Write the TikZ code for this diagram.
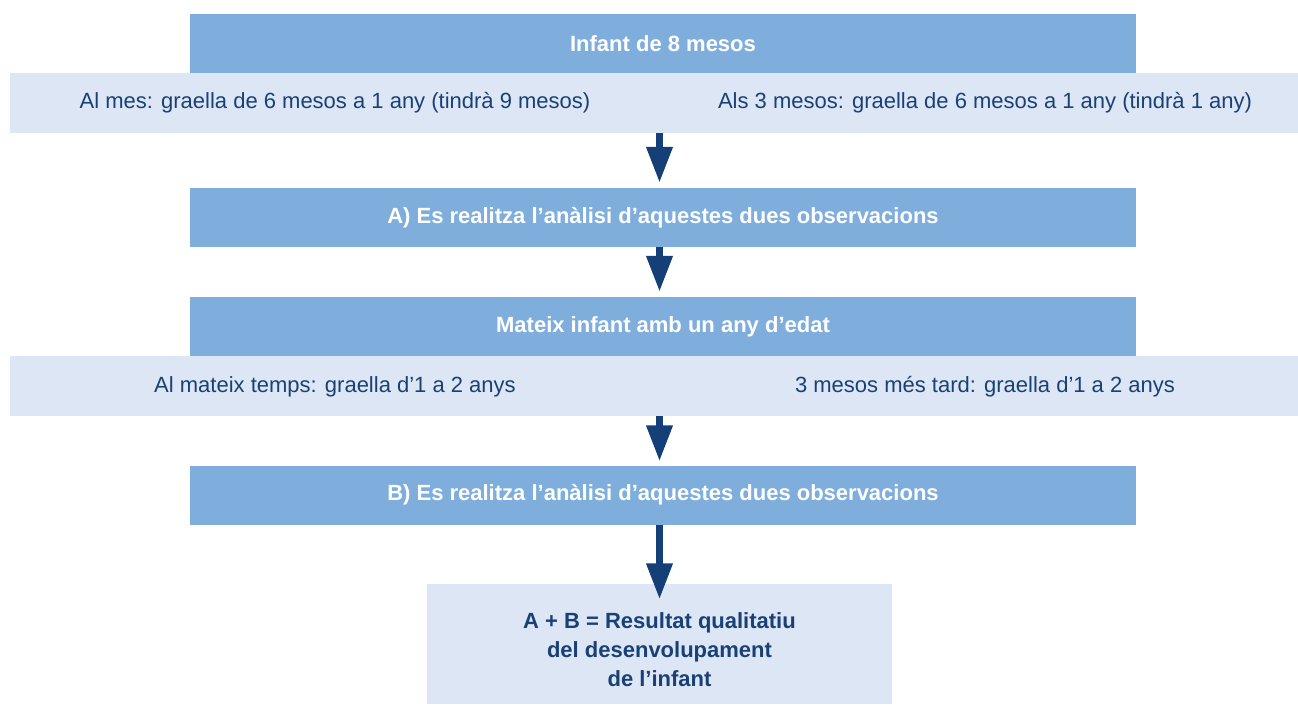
\documentclass[tikz,border=0pt]{standalone}
\usepackage{fontspec}
\setmainfont{Liberation Sans}
\usepackage{xcolor}
\definecolor{BoxBlue}{HTML}{7FAEDC}
\definecolor{BandBlue}{HTML}{DCE6F5}
\definecolor{InkBlue}{HTML}{1A4176}
\definecolor{ArrowBlue}{HTML}{143F77}
\usetikzlibrary{arrows.meta}

\begin{document}
\begin{tikzpicture}[x=1pt,y=-1pt,
    stagebox/.style={fill=BoxBlue,text=white,font=\fontsize{22}{26}\selectfont\bfseries,
        minimum width=946pt,minimum height=59pt,inner sep=0pt},
    bandbox/.style={fill=BandBlue,minimum width=1288pt,minimum height=60pt,inner sep=0pt},
    bandtext/.style={text=InkBlue,font=\fontsize{22}{26}\selectfont,inner sep=0pt},
    bigarrow/.style={ArrowBlue,line width=7pt,-{Triangle[width=25pt,length=36pt]}}]
        \useasboundingbox (0,0) rectangle (1298,704);
        % first observation
        \node[stagebox] (infant) at (663,43.5) {Infant de 8 mesos};
        \node[bandbox] (band1) at (653.5,103) {};
        \node[bandtext] (mes1) at (335,103) {Al mes: graella de 6 mesos a 1 any (tindrà 9 mesos)};
        \node[bandtext] (mes3) at (985,103) {Als 3 mesos: graella de 6 mesos a 1 any (tindrà 1 any)};
        \node[stagebox] (analA) at (663,217.5) {A) Es realitza l’anàlisi d’aquestes dues observacions};
        % second observation
        \node[stagebox] (anyedat) at (663,326.5) {Mateix infant amb un any d’edat};
        \node[bandbox] (band2) at (653.5,386) {};
        \node[bandtext] (temps) at (335,387) {Al mateix temps: graella d’1 a 2 anys};
        \node[bandtext] (tard) at (985,387) {3 mesos més tard: graella d’1 a 2 anys};
        \node[stagebox] (analB) at (663,495) {B) Es realitza l’anàlisi d’aquestes dues observacions};
        % result
        \node[fill=BandBlue,minimum width=465pt,minimum height=120pt,inner sep=0pt] (result) at (659.5,643.5) {};
        \node[text=InkBlue,font=\fontsize{22}{29}\selectfont\bfseries,align=center,inner sep=0pt]
            (resulttxt) at (659.5,650) {A + B = Resultat qualitatiu\\del desenvolupament\\de l’infant};
        \draw[bigarrow,shorten >=5pt] (band1.south -| result.north) -- (analA.north -| result.north);
        \draw[bigarrow,shorten >=5pt] (analA.south -| result.north) -- (anyedat.north -| result.north);
        \draw[bigarrow,shorten >=4pt] (band2.south -| result.north) -- (analB.north -| result.north);
        \draw[bigarrow,shorten >=-16pt] (analB.south -| result.north) -- (result.north);
    \end{tikzpicture}
\end{document}
